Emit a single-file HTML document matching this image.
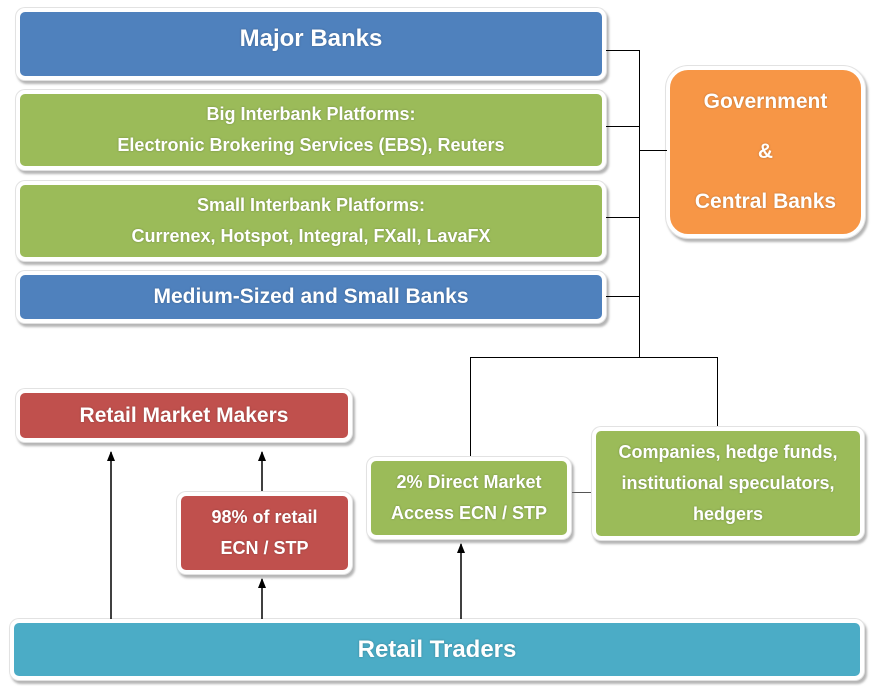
<!DOCTYPE html>
<html><head><style>
body{margin:0;width:878px;height:686px;background:#fff;position:relative;overflow:hidden;font-family:"Liberation Sans",sans-serif;}
.b{position:absolute;box-sizing:content-box;border:4px solid #fff;border-radius:9px;box-shadow:0 0 0 1px #e2e2e2,2px 3px 2px 1px rgba(120,120,120,.55);color:#fff;font-weight:bold;display:flex;align-items:center;justify-content:center;text-align:center;text-shadow:0 0 2px rgba(0,0,0,.25);}
.blue{background:#4f81bd}.green{background:#9bbb59}.red{background:#c0504d}.orange{background:#f79646}.teal{background:#4bacc6}
.l{position:absolute;background:#000;}
</style></head><body>
<div class="b blue" style="left:16px;top:8px;width:582px;height:64px;font-size:24px;align-items:flex-start"><div style="margin-top:13px">Major Banks</div></div>
<div class="b green" style="left:16px;top:90px;width:582px;height:72px;font-size:18px;line-height:31px">Big Interbank Platforms:<br>Electronic Brokering Services (EBS), Reuters</div>
<div class="b green" style="left:16px;top:181px;width:582px;height:72px;font-size:18px;line-height:31px">Small Interbank Platforms:<br>Currenex, Hotspot, Integral, FXall, LavaFX</div>
<div class="b blue" style="left:16px;top:271px;width:582px;height:44px;font-size:21px">Medium-Sized and Small Banks</div>
<div class="b orange" style="left:666px;top:66px;width:191px;height:164px;border-radius:22px;font-size:21px;line-height:50px">Government<br>&amp;<br>Central Banks</div>

<div class="l" style="left:606px;top:50px;width:34px;height:1px"></div>
<div class="l" style="left:606px;top:126px;width:34px;height:1px"></div>
<div class="l" style="left:606px;top:217px;width:34px;height:1px"></div>
<div class="l" style="left:606px;top:296px;width:34px;height:1px"></div>
<div class="l" style="left:639px;top:50px;width:1px;height:308px"></div>
<div class="l" style="left:639px;top:150px;width:28px;height:1px"></div>
<div class="l" style="left:470px;top:357px;width:248px;height:1px"></div>
<div class="l" style="left:470px;top:357px;width:1px;height:100px"></div>
<div class="l" style="left:717px;top:357px;width:1px;height:70px"></div>
<div class="l" style="left:572px;top:492px;width:20px;height:1px;background:#555"></div>

<div class="b red" style="left:16px;top:389px;width:328px;height:45px;font-size:21px">Retail Market Makers</div>
<div class="b red" style="left:177px;top:492px;width:167px;height:74px;font-size:18px;line-height:31px">98% of retail<br>ECN / STP</div>
<div class="b green" style="left:367px;top:457px;width:196px;height:74px;font-size:18px;line-height:31px">2% Direct Market<br>Access ECN / STP</div>
<div class="b green" style="left:592px;top:427px;width:264px;height:105px;font-size:18px;line-height:31px">Companies, hedge funds,<br>institutional speculators,<br>hedgers</div>
<div class="b teal" style="left:10px;top:619px;width:846px;height:53px;font-size:24px">Retail Traders</div>

<svg width="878" height="686" style="position:absolute;left:0;top:0" xmlns="http://www.w3.org/2000/svg">
<defs><marker id="a" markerWidth="10" markerHeight="8" refX="9" refY="4" orient="auto" markerUnits="userSpaceOnUse"><path d="M0,0 L10,4 L0,8 Z" fill="#000"/></marker></defs>
<g stroke="#000" stroke-width="1.5">
<line x1="111" y1="619" x2="111" y2="452" marker-end="url(#a)"/>
<line x1="262" y1="491" x2="262" y2="452" marker-end="url(#a)"/>
<line x1="262" y1="619" x2="262" y2="579" marker-end="url(#a)"/>
<line x1="461" y1="619" x2="461" y2="544" marker-end="url(#a)"/>
</g></svg>
</body></html>
